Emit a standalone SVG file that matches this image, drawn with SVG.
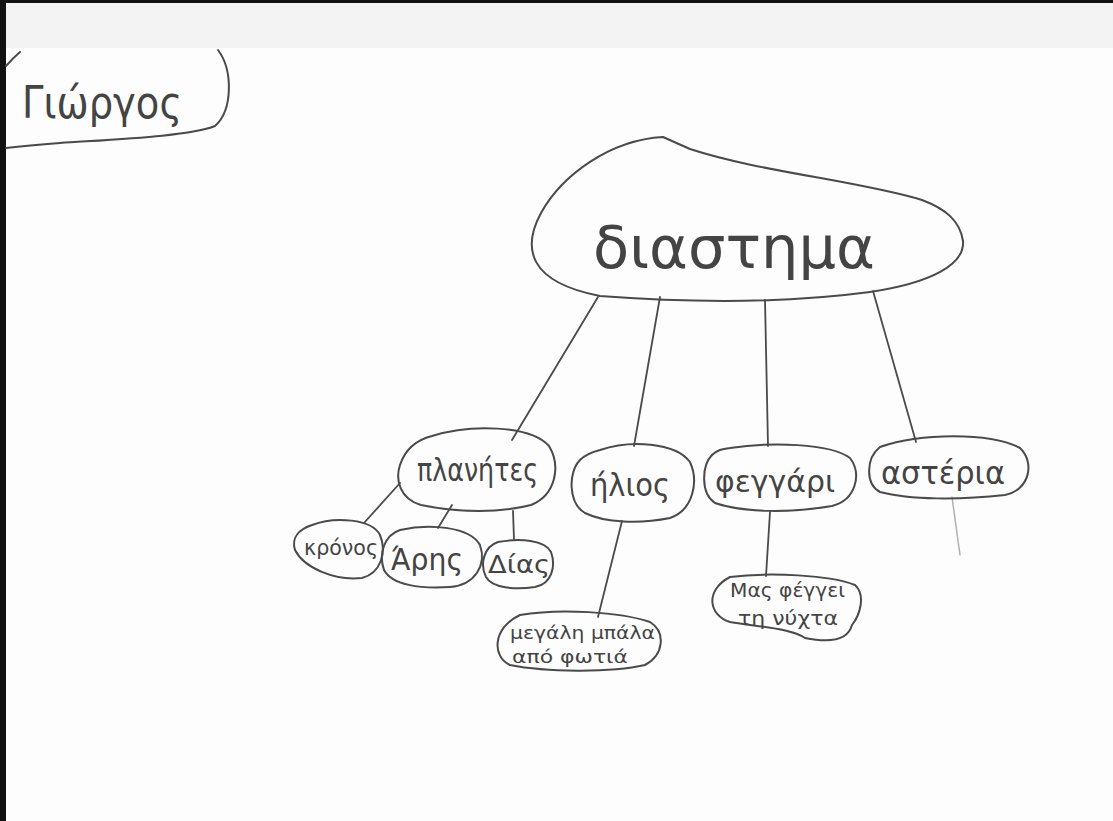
<svg xmlns="http://www.w3.org/2000/svg" width="1113" height="821" viewBox="0 0 1113 821">
<style>
.shape{fill:none;stroke:#4a4a4a;stroke-width:2;stroke-linejoin:round;stroke-linecap:round}
.line{fill:none;stroke:#4a4a4a;stroke-width:1.8;stroke-linecap:round}
.faint{fill:none;stroke:#b0b0b0;stroke-width:1.5;stroke-linecap:round}
.t{font-family:"DejaVu Sans","Noto Sans",sans-serif;fill:#444;font-weight:normal}
</style>
<rect x="0" y="0" width="1113" height="821" fill="#fdfdfd"/>
<rect x="0" y="3" width="1113" height="45" fill="#f3f3f3"/>
<rect x="0" y="0" width="1113" height="3" fill="#111"/>
<rect x="0" y="0" width="6" height="821" fill="#111"/>

<g id="connectors">
<path class="line" d="M598 297 L512 440"/>
<path class="line" d="M660 297 L634 446"/>
<path class="line" d="M765 300 L768 446"/>
<path class="line" d="M873 291 L916 442"/>
<path class="line" d="M400 483 L364 523"/>
<path class="line" d="M452 505 L438 528"/>
<path class="line" d="M513 511 L514 540"/>
<path class="line" d="M622 521 L598 617"/>
<path class="line" d="M770 512 L766 576"/>
<path class="faint" d="M952 497 L960 555"/>
</g>

<g id="node-giorgos">
<path class="shape" d="M6 66 Q13 58 20 52"/>
<path class="shape" d="M218 50 C233 70 233 110 215 126 C190 136 120 139 60 143 C35 145 15 147 6 148"/>
<text class="t" x="22" y="118" font-size="44" textLength="160" lengthAdjust="spacingAndGlyphs">Γιώργος</text>
</g>

<g id="node-diastima">
<path class="shape" d="M663 137 C610 140 562 175 541 213 C522 248 528 282 600 296 C680 302 780 304 870 292 C930 283 965 265 963 241 C960 221 946 209 922 200 C860 181 760 172 690 149 Z"/>
<text class="t" x="593" y="268" font-size="58" textLength="282" lengthAdjust="spacingAndGlyphs">διαστημα</text>
</g>

<g id="node-planites">
<path class="shape" d="M432 436 C470 424 530 425 549 446 C561 466 556 495 531 505 C500 513 460 513 421 505 C400 499 395 480 400 465 C405 450 416 440 432 436 Z"/>
<text class="t" x="417" y="481" font-size="32" textLength="121" lengthAdjust="spacingAndGlyphs">πλανήτες</text>
</g>

<g id="node-ilios">
<path class="shape" d="M600 450 C630 440 675 442 690 462 C699 482 693 510 670 518 C640 524 605 523 585 513 C568 503 568 472 580 460 C586 454 592 452 600 450 Z"/>
<text class="t" x="590" y="496" font-size="32" textLength="80" lengthAdjust="spacingAndGlyphs">ήλιος</text>
</g>

<g id="node-feggari">
<path class="shape" d="M730 448 C770 442 830 443 850 458 C862 474 856 500 832 506 C790 513 745 513 715 503 C700 493 702 465 712 455 C717 450 722 449 730 448 Z"/>
<text class="t" x="715" y="492" font-size="30" textLength="120" lengthAdjust="spacingAndGlyphs">φεγγάρι</text>
</g>

<g id="node-asteria">
<path class="shape" d="M880 447 C920 433 990 432 1020 448 C1035 462 1030 490 1005 495 C960 500 910 500 880 492 C865 484 866 458 880 447 Z"/>
<text class="t" x="881" y="484" font-size="32" textLength="124" lengthAdjust="spacingAndGlyphs">αστέρια</text>
</g>

<g id="node-kronos">
<path class="shape" d="M312 525 C335 516 372 519 380 535 C387 552 381 573 362 578 C335 581 304 568 295 550 C291 537 300 529 312 525 Z"/>
<text class="t" x="304" y="555" font-size="22" textLength="74" lengthAdjust="spacingAndGlyphs">κρόνος</text>
</g>

<g id="node-aris">
<path class="shape" d="M400 530 C430 523 470 527 480 545 C487 565 475 585 450 587 C420 589 392 585 384 570 C378 553 385 535 400 530 Z"/>
<text class="t" x="391" y="570" font-size="30" textLength="72" lengthAdjust="spacingAndGlyphs">Άρης</text>
</g>

<g id="node-dias">
<path class="shape" d="M498 542 C520 538 545 540 551 552 C556 566 552 584 535 587 C515 590 492 588 486 577 C480 565 483 547 498 542 Z"/>
<text class="t" x="488" y="573" font-size="24" textLength="62" lengthAdjust="spacingAndGlyphs">Δίας</text>
</g>

<g id="node-mpala">
<path class="shape" d="M520 615 C560 608 620 612 650 622 C666 632 664 655 645 665 C610 673 545 672 510 665 C492 657 492 628 520 615 Z"/>
<text class="t" x="510" y="639" font-size="18" textLength="145" lengthAdjust="spacingAndGlyphs">μεγάλη μπάλα</text>
<text class="t" x="512" y="663" font-size="18" textLength="116" lengthAdjust="spacingAndGlyphs">από φωτιά</text>
</g>

<g id="node-feggei">
<path class="shape" d="M730 577 C770 572 830 575 855 585 C866 595 860 615 852 625 C848 640 830 643 805 638 C790 628 760 627 730 622 C708 615 705 590 730 577 Z"/>
<text class="t" x="730" y="597" font-size="19" textLength="115" lengthAdjust="spacingAndGlyphs">Μας φέγγει</text>
<text class="t" x="738" y="625" font-size="19" textLength="100" lengthAdjust="spacingAndGlyphs">τη νύχτα</text>
</g>
</svg>
